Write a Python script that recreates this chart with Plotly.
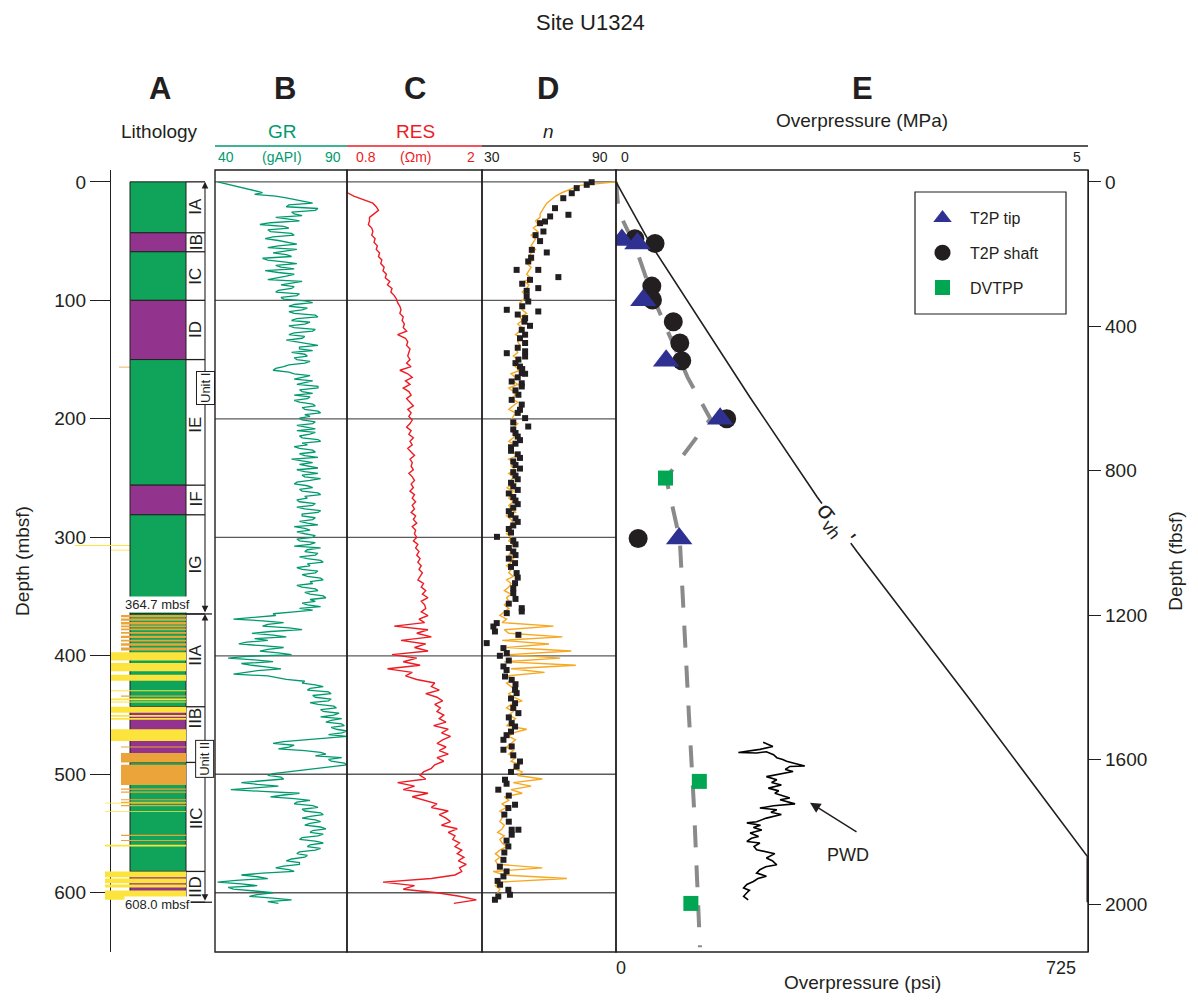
import plotly.graph_objects as go

# =====================================================================
# DATA
# =====================================================================
GR_STEP_M = 1.5   # gamma-ray log digitised every 1.5 m from 0 mbsf
LOG_STEP_M = 3    # resistivity and porosity logs digitised every 3 m

# B: gamma ray (gAPI)
GR_GAPI = [
    41, 44, 47, 50, 52, 56, 58, 55, 63, 67, 70, 74, 77, 68, 67, 79, 78, 69, 70, 73,
    63, 68, 72, 61, 57, 66, 68, 60, 61, 69, 70, 62, 59, 64, 67, 71, 64, 60, 71, 66,
    62, 67, 69, 58, 60, 66, 71, 63, 65, 70, 59, 64, 70, 67, 64, 60, 73, 69, 65, 70,
    69, 64, 63, 72, 71, 65, 66, 74, 77, 70, 68, 75, 73, 68, 70, 78, 79, 71, 69, 76,
    74, 68, 70, 78, 77, 70, 68, 74, 73, 67, 71, 76, 79, 72, 72, 77, 69, 74, 75, 70,
    71, 76, 74, 68, 66, 63, 62, 68, 70, 76, 73, 70, 77, 74, 71, 79, 79, 72, 73, 77,
    70, 76, 75, 70, 72, 77, 78, 73, 74, 79, 80, 74, 76, 72, 73, 78, 77, 71, 74, 78,
    71, 78, 76, 72, 73, 79, 80, 73, 75, 70, 72, 77, 78, 72, 74, 79, 69, 73, 77, 72,
    75, 79, 71, 74, 79, 73, 74, 80, 76, 71, 70, 75, 77, 72, 73, 79, 80, 74, 75, 71,
    72, 78, 77, 71, 74, 80, 79, 73, 73, 78, 77, 72, 75, 79, 70, 74, 76, 71, 74, 78,
    77, 71, 72, 78, 76, 70, 80, 75, 74, 79, 78, 72, 75, 80, 81, 75, 76, 71, 73, 79,
    78, 73, 75, 80, 81, 76, 77, 71, 73, 78, 79, 74, 76, 81, 82, 76, 78, 73, 75, 80,
    72, 77, 70, 62, 63, 56, 47, 58, 66, 60, 58, 68, 73, 61, 54, 62, 67, 55, 60, 52,
    49, 58, 66, 60, 57, 64, 69, 52, 45, 55, 62, 50, 54, 60, 65, 56, 52, 47, 60, 64,
    67, 74, 73, 78, 81, 76, 75, 83, 84, 77, 78, 84, 83, 76, 79, 85, 86, 80, 81, 87,
    85, 80, 88, 84, 82, 88, 89, 84, 86, 90, 88, 83, 90, 82, 75, 66, 62, 70, 68, 64,
    74, 80, 82, 78, 88, 83, 84, 89, 90, 84, 80, 74, 68, 62, 60, 65, 66, 58, 50, 56,
    64, 55, 46, 58, 72, 66, 61, 70, 76, 71, 70, 77, 79, 73, 74, 80, 81, 76, 73, 78,
    80, 76, 74, 80, 82, 77, 76, 81, 79, 73, 72, 78, 81, 76, 75, 80, 78, 72, 71, 75,
    74, 69, 67, 72, 72, 66, 63, 68, 70, 58, 50, 56, 60, 48, 41, 50, 56, 45, 47, 55,
    62, 56, 53, 62, 69, 60, 64,
]

# C: resistivity (ohm m)
RES_OHMM = [
    0.80, 0.80, 0.80, 0.80, 0.86, 0.95, 1.03, 1.06, 1.08, 1.04,
    1.00, 1.00, 0.99, 1.02, 1.03, 1.02, 1.05, 1.04, 1.07, 1.06,
    1.09, 1.08, 1.11, 1.10, 1.13, 1.12, 1.15, 1.14, 1.18, 1.16,
    1.20, 1.19, 1.22, 1.24, 1.25, 1.27, 1.28, 1.27, 1.30, 1.29,
    1.31, 1.30, 1.33, 1.25, 1.32, 1.34, 1.33, 1.36, 1.35, 1.34,
    1.36, 1.33, 1.37, 1.27, 1.34, 1.38, 1.32, 1.36, 1.30, 1.35,
    1.37, 1.33, 1.36, 1.39, 1.34, 1.37, 1.35, 1.38, 1.36, 1.33,
    1.37, 1.35, 1.39, 1.36, 1.38, 1.34, 1.37, 1.40, 1.36, 1.38,
    1.37, 1.39, 1.35, 1.38, 1.40, 1.37, 1.39, 1.36, 1.40, 1.38,
    1.41, 1.38, 1.40, 1.37, 1.41, 1.39, 1.42, 1.38, 1.41, 1.40,
    1.42, 1.39, 1.43, 1.41, 1.44, 1.42, 1.45, 1.43, 1.46, 1.44,
    1.47, 1.45, 1.43, 1.48, 1.46, 1.50, 1.47, 1.52, 1.46, 1.49,
    1.50, 1.46, 1.52, 1.44, 1.49, 1.22, 1.52, 1.42, 1.55, 1.28,
    1.50, 1.40, 1.52, 1.20, 1.42, 1.30, 1.45, 1.16, 1.38, 1.32,
    1.42, 1.58, 1.55, 1.62, 1.50, 1.60, 1.65, 1.58, 1.63, 1.60,
    1.66, 1.62, 1.68, 1.57, 1.70, 1.64, 1.72, 1.65, 1.60, 1.68,
    1.62, 1.70, 1.60, 1.66, 1.58, 1.55, 1.48, 1.45, 1.50, 1.25,
    1.40, 1.30, 1.52, 1.38, 1.50, 1.60, 1.55, 1.70, 1.62, 1.68,
    1.72, 1.64, 1.78, 1.70, 1.76, 1.74, 1.80, 1.76, 1.82, 1.78,
    1.84, 1.79, 1.86, 1.80, 1.82, 1.76, 1.55, 1.12, 1.40, 1.30,
    1.60, 1.80, 1.95, 1.75,
]

# D: porosity n (%) from logs
N_LOG = [
    90, 74, 70, 66, 63, 61, 59, 58, 57, 56,
    56, 54, 55, 53, 55, 52, 54, 53, 52, 54,
    52, 51, 53, 50, 52, 51, 50, 52, 49, 51,
    50, 48, 50, 49, 47, 49, 48, 50, 47, 48,
    46, 48, 47, 45, 48, 46, 47, 45, 46, 44,
    46, 44, 45, 47, 43, 45, 44, 46, 42, 44,
    45, 43, 46, 44, 42, 45, 44, 43, 46, 44,
    43, 45, 44, 42, 45, 43, 44, 46, 42, 44,
    43, 45, 42, 44, 43, 45, 41, 44, 43, 42,
    44, 42, 43, 45, 41, 43, 44, 42, 43, 41,
    43, 42, 44, 41, 43, 42, 44, 43, 41, 43,
    42, 44, 41, 43, 42, 40, 43, 41, 42, 40,
    42, 40, 38, 41, 39, 62, 40, 42, 66, 39,
    60, 41, 70, 42, 65, 40, 72, 43, 58, 41,
    44, 41, 43, 45, 42, 44, 48, 43, 41, 44,
    42, 45, 43, 41, 50, 44, 42, 45, 43, 41,
    44, 42, 45, 43, 47, 44, 48, 46, 57, 44,
    52, 43, 48, 40, 42, 39, 41, 38, 40, 39,
    38, 40, 39, 37, 40, 38, 39, 41, 38, 36,
    38, 36, 37, 57, 35, 40, 68, 38, 36, 38,
    37,
]

# D: porosity n (%) measured on core samples
N_CORE_DEPTH = [
    0.3, 2.5, 5.3, 9.6, 13.8, 22.2, 27.8, 29.2, 33.5, 34.9, 41.9, 45, 50, 57.4, 59.6,
    64, 67.2, 74.3, 74.3, 80.4, 82.7, 86, 89.7, 92, 96.8, 101, 105, 108, 109.4, 112,
    115, 118, 121.5, 124.9, 129, 132, 136, 140, 143, 144.6, 147.4, 150, 153, 155.9,
    158, 161.5, 162, 165, 168.5, 170, 172.7, 176, 179.7, 184, 188, 192.4, 195,
    199.4, 203, 206.5,
    209, 212, 215, 218, 221, 224, 227, 230, 233, 236, 239, 242, 245, 248, 251,
    254, 257, 260, 263, 266, 269, 272, 275, 278, 281, 284, 287, 290, 293, 296,
    299.6, 303, 306, 309, 312, 315, 318,
    321.8, 325, 330.2, 334, 338.7, 343, 347.1, 352, 356, 359.8, 362.6, 364,
    372.4, 375.3, 379.5, 382.3, 389.3, 393.5, 397.7, 400, 404, 409, 412, 417.5,
    420.3, 424, 428.7, 431.5, 436, 440, 444, 448.4, 452, 456.8, 459.7, 464, 467,
    470.9, 476.5, 479.3, 484, 489.2, 493.4, 498, 504.6, 508, 513, 518, 525.7,
    528.5, 534, 540, 546.8, 546.8, 551, 556, 560.9, 566, 572.2, 578, 582, 586.2,
    590, 593.2, 597.5, 601.7, 603.1, 605.9,
]
N_CORE = [
    79.1, 76.9, 72.4, 70.2, 66.4, 62.7, 68.7, 60.5, 58.2, 56.0, 57.5, 54, 56, 52.3, 59.0,
    52, 50.7, 55.2, 45.5, 64.2, 51.5, 48, 55.2, 50, 50.0, 50.7, 48, 41.1, 55.2, 46,
    49.3, 49, 51.5, 47.8, 49.3, 47, 49.3, 46, 49.3, 41.1, 49.3, 46.3, 45, 47.0,
    48, 47.8, 49.3, 46, 43.3, 47.8, 47.8, 45, 46.3, 43.3, 47.8, 47.0, 46,
    49.3, 44, 50.7,
    44, 45, 46, 47, 45, 43, 43, 46, 47, 44, 45, 47, 44, 45, 46,
    43, 44, 46, 42, 44, 45, 46, 44, 42, 43, 45, 46, 44, 42, 43,
    36.7, 44, 45, 42, 44, 45, 42,
    44.8, 43, 45.5, 46, 44.8, 44, 44.0, 45, 42, 47.8, 47.8, 41.1,
    36.6, 35.1, 35.8, 46.3, 32.1, 39.6, 41.1, 38, 42, 39.6, 41, 40.3,
    43.3, 45, 44.8, 45.5, 43, 44.8, 44, 46.3, 42, 43.3, 44.8, 43, 41,
    39.6, 43.3, 39.6, 44, 47.0, 45.5, 43, 40.3, 41, 37.3, 42, 44.8,
    41.8, 40, 42, 43.3, 46.3, 43.3, 41, 41.8, 40, 39.6, 38, 41, 39.6,
    37, 38.1, 41.8, 42.5, 37.3, 35.8,
]

# A: lithology and subunits
LITH_TOP = [0, 43, 59, 100, 150, 256, 281, 364.7, 443, 490, 582]
LITH_BASE = [43, 59, 100, 150, 256, 281, 364.7, 443, 490, 582, 608]
LITH_TYPE = ["clay", "silty clay", "clay", "silty clay", "clay", "silty clay",
             "clay", "clay", "silty clay", "clay", "silty clay"]
SUBUNITS = ["IA", "IB", "IC", "ID", "IE", "IF", "IG", "IIA", "IIB", "IIC", "IID"]
SUBUNIT_LABEL_DEPTH = [21, 51, 80, 125, 205, 268, 323, 400, 453, 537, 595]
UNITS = ["Unit I", "Unit II"]
UNIT_TOP = [0, 364.7]
UNIT_BASE = [364.7, 608.0]
UNIT_LABEL_DEPTH = [174, 487]

# silt / sand layers (top, base, kind)
BAND_TOP = [306.5, 310.5, 156,
            365.5, 368.5, 371.5, 374.5, 377, 380, 383, 386.5, 389.5, 393,
            397, 406, 416, 429, 433.5, 436, 438.5, 443, 450, 452.5, 462,
            476.5, 482, 492, 512, 514.5, 521, 523.2, 524, 526, 531,
            551, 555.5, 559.5, 582, 588, 593, 598]
BAND_BASE = [307.3, 311.2, 156.7,
             367.5, 370.5, 373.5, 376, 378.5, 381.5, 385, 388, 391.5, 395.5,
             404, 413, 421, 430, 434.5, 437.5, 439.5, 448, 451.5, 454, 472,
             477.5, 490, 509, 513, 515.5, 522, 524.2, 524.7, 527, 531.7,
             552, 556.3, 561, 587, 592, 595.5, 606]
BAND_KIND = ["sand lamina", "sand", "silt",
             "silt", "silt", "silt", "silt", "silt", "silt", "silt", "silt", "silt", "silt",
             "sand", "sand", "sand", "sand", "silt", "sand", "sand", "sand", "sand", "sand", "sand",
             "silt", "silt", "silt", "silt", "silt", "silt", "silt", "sand lamina", "silt", "sand lamina",
             "silt", "silt", "sand lamina", "sand lamina", "sand lamina", "sand lamina", "sand lamina"]

# E: overpressure (psi) vs depth (mbsf)
TIP_DEPTH = [49, 52, 100, 151, 200, 301]
TIP_PSI = [9, 33, 42, 77, 160, 97]
SHAFT_DEPTH = [48, 52, 88, 99.7, 118, 136, 151, 200, 301]
SHAFT_PSI = [29, 60, 55, 56, 88, 98, 101, 170, 34]
DVTPP_DEPTH = [250, 506, 609]
DVTPP_PSI = [76, 128, 115]
TREND_DEPTH = [0, 25, 55, 95, 165, 200, 250, 302, 450, 530, 646]
TREND_PSI = [0, 4, 30, 55, 110, 145, 77, 98, 112, 120, 129]
SIGMA_DEPTH = [0, 51.5, 182, 266, 312, 435, 570]
SIGMA_PSI = [0, 52, 206, 309, 370, 541, 725]
SIGMA_TAIL_DEPTH = [570, 608]
SIGMA_TAIL_PSI = [725, 725]
PWD_DEPTH = [473, 476.5, 479, 481.6, 482, 481, 483.5, 486, 487.5, 489, 490.5,
             493, 493.4, 496, 497.6, 500.4, 502, 504.6, 507, 509, 511.7, 514,
             516, 520, 521.5, 525, 526.6, 528.5, 530, 532, 534, 537, 540, 541,
             543, 545, 547, 549.6, 552.5, 554, 556.7, 558, 561, 563.7, 567,
             570.7, 573, 576.4, 578, 580.6, 583.4, 586, 588, 590.5, 593, 596,
             598, 600, 603, 606]
PWD_PSI = [226, 241, 221, 188, 216, 231, 242, 247, 256, 262, 272,
           290, 267, 260, 272, 242, 231, 247, 239, 254, 234, 250,
           244, 267, 252, 275, 242, 221, 247, 238, 254, 231, 216, 201,
           222, 211, 224, 206, 219, 208, 201, 221, 212, 216, 244,
           231, 240, 247, 230, 221, 216, 231, 218, 211, 201, 196,
           205, 201, 196, 203]

DEPTH_TICKS_M = [0, 100, 200, 300, 400, 500, 600]
DEPTH_TICKS_FT = [0, 400, 800, 1200, 1600, 2000]
GRID_DEPTHS = [0, 100, 200, 300, 400, 500, 600]
M_TO_FT = 3.28084
DEPTH_RANGE = [650, -10]
PSI_RANGE = [0, 725]

# =====================================================================
# STYLE / LAYOUT
# =====================================================================
PAGE_W, PAGE_H = 1198, 1002
BODY_MARGIN = 8                      # default page margin around the plot div
W, H = PAGE_W - 2 * BODY_MARGIN, PAGE_H - 2 * BODY_MARGIN
FONT = "Liberation Sans, Arial, Helvetica, sans-serif"
INK = "#231f20"
C_GREEN_LOG = "#009a6e"
C_RED = "#ed1c24"
C_ORANGE = "#f7a823"
C_LITH = {"clay": "#0fa45a", "silty clay": "#92338e"}
BAND_STYLE = {"silt": ("#eba43a", 121), "sand": ("#fde43c", 111),
              "sand lamina": ("#fde43c", 105)}
BAND_STYLE_FAR = 75
C_TIP = "#2e3192"
C_DV = "#00a651"


def px(x):
    """page pixel x -> paper fraction"""
    return (x - BODY_MARGIN) / W


def py(y):
    """page pixel y -> paper fraction"""
    return 1 - (y - BODY_MARGIN) / H


Y_DOM = [py(952), py(170)]
COL_L, COL_R, LAB_R = 130, 186, 205

fig = go.Figure()

# ---- logs ----
gr_depth = [i * GR_STEP_M for i in range(len(GR_GAPI))]
res_depth = [i * LOG_STEP_M for i in range(len(RES_OHMM))]
n_depth = [i * LOG_STEP_M for i in range(len(N_LOG))]

fig.add_trace(go.Scatter(x=GR_GAPI, y=gr_depth, xaxis="x2", yaxis="y", mode="lines",
                         line=dict(color=C_GREEN_LOG, width=1.3), showlegend=False,
                         hoverinfo="skip"))
fig.add_trace(go.Scatter(x=RES_OHMM, y=res_depth, xaxis="x3", yaxis="y", mode="lines",
                         line=dict(color=C_RED, width=1.4), showlegend=False,
                         hoverinfo="skip"))
fig.add_trace(go.Scatter(x=N_LOG, y=n_depth, xaxis="x4", yaxis="y", mode="lines",
                         line=dict(color=C_ORANGE, width=1.4), showlegend=False,
                         hoverinfo="skip"))
fig.add_trace(go.Scatter(x=N_CORE, y=N_CORE_DEPTH, xaxis="x4", yaxis="y", mode="markers",
                         marker=dict(symbol="square", size=6, color=INK), showlegend=False,
                         hoverinfo="skip"))

# ---- panel E ----
fig.add_trace(go.Scatter(x=TREND_PSI, y=TREND_DEPTH, xaxis="x5", yaxis="y", mode="lines",
                         line=dict(color="#8a8a8a", width=4, dash="22px,18px"),
                         showlegend=False, hoverinfo="skip"))
fig.add_trace(go.Scatter(x=SIGMA_PSI, y=SIGMA_DEPTH, xaxis="x5", yaxis="y", mode="lines",
                         line=dict(color=INK, width=1.6), showlegend=False, hoverinfo="skip"))
fig.add_trace(go.Scatter(x=SIGMA_TAIL_PSI, y=SIGMA_TAIL_DEPTH, xaxis="x5", yaxis="y",
                         mode="lines", line=dict(color=INK, width=3), showlegend=False,
                         hoverinfo="skip"))
fig.add_trace(go.Scatter(x=PWD_PSI, y=PWD_DEPTH, xaxis="x5", yaxis="y", mode="lines",
                         line=dict(color="black", width=1.6), showlegend=False,
                         hoverinfo="skip"))
fig.add_trace(go.Scatter(x=SHAFT_PSI, y=SHAFT_DEPTH, xaxis="x5", yaxis="y", mode="markers",
                         name="T2P shaft\u00a0\u00a0\u00a0\u00a0", legendgroup="b", legendrank=2,
                         marker=dict(symbol="circle", size=19, color=INK)))
fig.add_trace(go.Scatter(x=TIP_PSI, y=TIP_DEPTH, xaxis="x5", yaxis="y", mode="markers",
                         name="T2P tip", legendgroup="a", legendrank=1,
                         marker=dict(symbol="triangle-up", size=23, color=C_TIP)))
fig.add_trace(go.Scatter(x=DVTPP_PSI, y=DVTPP_DEPTH, xaxis="x5", yaxis="y", mode="markers",
                         name="DVTPP", legendgroup="c", legendrank=3,
                         marker=dict(symbol="square", size=15, color=C_DV)))
# carrier for the fbsf axis
fig.add_trace(go.Scatter(x=[None], y=[None], xaxis="x5", yaxis="y2", mode="markers",
                         showlegend=False, hoverinfo="skip"))

shapes = []
annotations = []


def band_shape(top, base, kind):
    color, left = BAND_STYLE[kind]
    in_unit1 = base < UNIT_TOP[1]
    if in_unit1 and kind == "sand lamina":
        left = BAND_STYLE_FAR
    if in_unit1 and kind == "silt":
        left = 119
    right = COL_L if in_unit1 else COL_R
    return dict(type="rect", xref="x", yref="y", x0=left, x1=right, y0=top, y1=base,
                fillcolor=color, line=dict(width=0), layer="above")


for t, b, k in zip(BAND_TOP, BAND_BASE, BAND_KIND):
    if b < UNIT_TOP[1]:
        shapes.append(band_shape(t, b, k))
for t, b, k in zip(LITH_TOP, LITH_BASE, LITH_TYPE):
    shapes.append(dict(type="rect", xref="x", yref="y", x0=COL_L, x1=COL_R, y0=t, y1=b,
                       fillcolor=C_LITH[k], line=dict(color=INK, width=1), layer="above"))
for t, b, k in zip(BAND_TOP, BAND_BASE, BAND_KIND):
    if b >= UNIT_TOP[1]:
        shapes.append(band_shape(t, b, k))

# subunit boxes and labels
for t in LITH_TOP + [LITH_BASE[-1]]:
    shapes.append(dict(type="line", xref="x", yref="y", x0=COL_R, x1=LAB_R, y0=t, y1=t,
                       line=dict(color=INK, width=1.3), layer="above"))
for name, d in zip(SUBUNITS, SUBUNIT_LABEL_DEPTH):
    annotations.append(dict(xref="x", yref="y", x=(COL_R + LAB_R) / 2 + 0.5, y=d, text=name,
                            showarrow=False, textangle=-90,
                            font=dict(size=17, color=INK, family=FONT)))
for t, b in zip(UNIT_TOP, UNIT_BASE):
    annotations.append(dict(xref="x", yref="y", x=LAB_R, y=t, ax=LAB_R, ay=b,
                            axref="x", ayref="y", text="", showarrow=True,
                            arrowside="end+start", arrowhead=2, arrowsize=1.2,
                            arrowwidth=1.1, arrowcolor=INK))
for b in UNIT_BASE:
    shapes.append(dict(type="line", xref="x", yref="y", x0=COL_R, x1=212, y0=b, y1=b,
                       line=dict(color=INK, width=1.3), layer="above"))
for name, d in zip(UNITS, UNIT_LABEL_DEPTH):
    annotations.append(dict(xref="x", yref="y", x=LAB_R, y=d, text=name, showarrow=False,
                            textangle=-90, bgcolor="white", bordercolor=INK,
                            borderwidth=1, borderpad=1,
                            font=dict(size=13, color=INK, family=FONT)))
annotations.append(dict(xref="x", yref="y", x=157, y=UNIT_TOP[1] - 8,
                        text="%.1f mbsf" % UNIT_TOP[1], showarrow=False, bgcolor="white",
                        borderpad=0, font=dict(size=13, color=INK, family=FONT)))
annotations.append(dict(xref="x", yref="y", x=157, y=UNIT_BASE[1] + 2,
                        text="%.1f mbsf" % UNIT_BASE[1], showarrow=False, bgcolor="white",
                        borderpad=0, font=dict(size=13, color=INK, family=FONT)))

# ---- panel boxes & grid ----
for ax in ["x2", "x3", "x4", "x5"]:
    shapes.append(dict(type="rect", xref=ax + " domain", yref="y domain", x0=0, x1=1,
                       y0=0, y1=1, line=dict(color=INK, width=1.4), layer="above"))
for d in GRID_DEPTHS:
    shapes.append(dict(type="line", xref="paper", yref="y", x0=px(215), x1=px(616),
                       y0=d, y1=d, line=dict(color="#5a5a5a", width=1.3), layer="below"))

# ---- header rules ----
for x0, x1, c in [(215, 347, C_GREEN_LOG), (347, 482, C_RED), (482, 1088, INK)]:
    shapes.append(dict(type="line", xref="paper", yref="paper", x0=px(x0), x1=px(x1),
                       y0=py(146), y1=py(146), line=dict(color=c, width=1.4)))

# ---- legend frame ----
shapes.append(dict(type="rect", xref="paper", yref="paper", x0=px(915), x1=px(1066),
                   y0=py(314), y1=py(192), line=dict(color=INK, width=1.2),
                   fillcolor="rgba(0,0,0,0)", layer="above"))


def txt(x, y, s, size=19, color=INK, bold=False, xanchor="center", **kw):
    if bold:
        s = "<b>%s</b>" % s
    annotations.append(dict(xref="paper", yref="paper", x=px(x), y=py(y), text=s,
                            showarrow=False, xanchor=xanchor, yanchor="middle",
                            font=dict(size=size, color=color, family=FONT), **kw))


txt(590, 22, "Site U1324", size=22)
for letter, x in zip("ABCDE", [160, 285, 415, 548, 862]):
    txt(x, 88, letter, size=31, bold=True)
txt(160, 132, "Lithology")
txt(282, 132, "GR", color=C_GREEN_LOG)
txt(415, 132, "RES", color=C_RED)
txt(548, 132, "<i>n</i>")
txt(862, 120, "Overpressure (MPa)")
txt(226, 157, "40", size=14, color=C_GREEN_LOG)
txt(282, 157, "(gAPI)", size=14, color=C_GREEN_LOG)
txt(333, 157, "90", size=14, color=C_GREEN_LOG)
txt(366, 157, "0.8", size=14, color=C_RED)
txt(415, 157, "(Ωm)", size=14, color=C_RED)
txt(471, 157, "2", size=14, color=C_RED)
txt(492, 157, "30", size=14)
txt(600, 157, "90", size=14)
txt(625, 157, "0", size=14)
txt(1077, 157, "5", size=14)
txt(621, 968, "0", size=18)
txt(1061, 968, "725", size=18)
txt(862, 982, "Overpressure (psi)", size=19)

# sigma_vh label, PWD label and arrow
annotations.append(dict(xref="x5", yref="y", x=336, y=289,
                        text="σ<sub>vh</sub> '", showarrow=False, textangle=53,
                        bgcolor="white", font=dict(size=25, color=INK, family=FONT)))
annotations.append(dict(xref="x5", yref="y", x=356, y=568, text="PWD", showarrow=False,
                        font=dict(size=18, color=INK, family=FONT)))
annotations.append(dict(xref="x5", yref="y", x=298, y=524, ax=48, ay=30, text="",
                        showarrow=True, arrowhead=2, arrowsize=1.4, arrowwidth=1.5,
                        arrowcolor=INK))

axis_off = dict(visible=False, showgrid=False, zeroline=False, fixedrange=True)
fig.update_layout(
    width=W, height=H,
    margin=dict(l=0, r=0, t=0, b=0),
    paper_bgcolor="white", plot_bgcolor="rgba(0,0,0,0)",
    font=dict(family=FONT, color=INK, size=15),
    xaxis=dict(domain=[px(60), px(215)], range=[60, 215], anchor="y", **axis_off),
    xaxis2=dict(domain=[px(215), px(347)], range=[40, 90], anchor="y", **axis_off),
    xaxis3=dict(domain=[px(347), px(482)], range=[0.8, 2.0], anchor="y", **axis_off),
    xaxis4=dict(domain=[px(482), px(616)], range=[30, 90], anchor="y", **axis_off),
    xaxis5=dict(domain=[px(616), px(1088)], range=PSI_RANGE, anchor="y", **axis_off),
    yaxis=dict(domain=Y_DOM, range=DEPTH_RANGE, anchor="free", position=px(110),
               tickvals=DEPTH_TICKS_M, ticks="outside", ticklen=20, tickwidth=1.4,
               tickcolor=INK, showline=True, linecolor=INK, linewidth=1.4,
               showgrid=False, zeroline=False, tickfont=dict(size=19, color=INK),
               title=dict(text="Depth (mbsf)", font=dict(size=19, color=INK), standoff=18)),
    yaxis2=dict(domain=Y_DOM, range=[DEPTH_RANGE[0] * M_TO_FT, DEPTH_RANGE[1] * M_TO_FT],
                overlaying="y", side="right", anchor="free", position=px(1088),
                tickvals=DEPTH_TICKS_FT, ticks="outside", ticklen=12, tickwidth=1.4,
                tickcolor=INK, showline=True, linecolor=INK, linewidth=1.4,
                showgrid=False, zeroline=False, tickfont=dict(size=19, color=INK),
                title=dict(text="Depth (fbsf)", font=dict(size=19, color=INK), standoff=22)),
    legend=dict(x=px(915), y=py(201), xanchor="left", yanchor="top",
                borderwidth=0, bgcolor="rgba(0,0,0,0)",
                font=dict(size=16, color=INK, family=FONT), tracegroupgap=11,
                itemwidth=45, traceorder="grouped"),
    shapes=shapes,
    annotations=annotations,
)

fig.write_html("out.html")
